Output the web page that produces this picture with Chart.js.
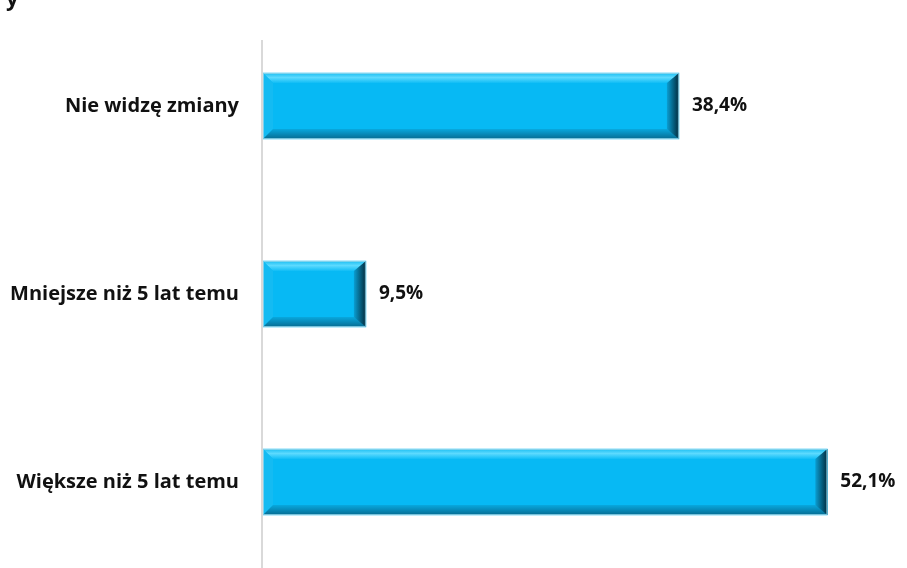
<!DOCTYPE html>
<html>
<head>
<meta charset="utf-8">
<script src="https://cdn.jsdelivr.net/npm/chart.js"></script>
<style>
  html, body { margin: 0; padding: 0; background: #fff; overflow: hidden; }
  #wrap { position: relative; width: 907px; height: 580px; }
  #cut { position: absolute; left: 6px; top: -18px; font: bold 22px "Open Sans", sans-serif; color: #111; }
  canvas { display: block; }
</style>
</head>
<body>
<div id="wrap">
  <span id="cut">y</span>
  <canvas id="chart" width="907" height="580"></canvas>
</div>
<script>
// Data
const categories = ['Nie widzę zmiany', 'Mniejsze niż 5 lat temu', 'Większe niż 5 lat temu'];
const shares = [38.4, 9.5, 52.1];
const valueLabels = ['38,4%', '9,5%', '52,1%'];

const FONT = '"Open Sans", sans-serif';

// Bevelled bar look plus the value labels to the right of each bar
const bevelPlugin = {
  id: 'bevel',
  afterDatasetsDraw(chart) {
    const ctx = chart.ctx;
    const meta = chart.getDatasetMeta(0);
    meta.data.forEach((bar, i) => {
      const left = bar.base, right = bar.x;
      const top = bar.y - bar.height / 2, bottom = bar.y + bar.height / 2;
      const b = 10;
      ctx.save();
      // top bevel
      const gt = ctx.createLinearGradient(0, top, 0, top + b);
      gt.addColorStop(0, '#1cbef2'); gt.addColorStop(0.45, '#5cdafe'); gt.addColorStop(1, '#10bdf6');
      ctx.fillStyle = gt;
      ctx.beginPath();
      ctx.moveTo(left, top); ctx.lineTo(right, top);
      ctx.lineTo(right - b, top + b); ctx.lineTo(left + b, top + b);
      ctx.closePath(); ctx.fill();
      // left bevel
      ctx.fillStyle = '#14bbf2';
      ctx.beginPath();
      ctx.moveTo(left, top); ctx.lineTo(left + b, top + b);
      ctx.lineTo(left + b, bottom - b); ctx.lineTo(left, bottom);
      ctx.closePath(); ctx.fill();
      // bottom bevel
      const gb = ctx.createLinearGradient(0, bottom - b, 0, bottom);
      gb.addColorStop(0, '#08a8de'); gb.addColorStop(1, '#066c92');
      ctx.fillStyle = gb;
      ctx.beginPath();
      ctx.moveTo(left, bottom); ctx.lineTo(right, bottom);
      ctx.lineTo(right - b, bottom - b); ctx.lineTo(left + b, bottom - b);
      ctx.closePath(); ctx.fill();
      // right bevel
      const gr = ctx.createLinearGradient(right - b - 2, 0, right, 0);
      gr.addColorStop(0, '#0a9ed2'); gr.addColorStop(1, '#022b3d');
      ctx.fillStyle = gr;
      ctx.beginPath();
      ctx.moveTo(right, top); ctx.lineTo(right, bottom);
      ctx.lineTo(right - b - 2, bottom - b); ctx.lineTo(right - b - 2, top + b);
      ctx.closePath(); ctx.fill();
      // thin outline
      ctx.strokeStyle = 'rgba(150,215,235,0.8)';
      ctx.lineWidth = 1;
      ctx.strokeRect(left + 0.5, top + 0.5, right - left - 1, bottom - top - 1);
      // value label
      ctx.fillStyle = '#111';
      ctx.font = 'bold 19px ' + FONT;
      ctx.textAlign = 'left';
      ctx.textBaseline = 'middle';
      ctx.fillText(valueLabels[i], right + 13, bar.y);
      ctx.restore();
    });
  }
};

// Grey category axis line that starts a bit below the top
const axisLinePlugin = {
  id: 'axisLine',
  beforeDatasetsDraw(chart) {
    const ctx = chart.ctx;
    const x = chart.chartArea.left;
    ctx.save();
    ctx.strokeStyle = '#d9d9d9';
    ctx.lineWidth = 2;
    ctx.beginPath();
    ctx.moveTo(x - 1, 40);
    ctx.lineTo(x - 1, chart.height);
    ctx.stroke();
    ctx.restore();
  }
};

new Chart(document.getElementById('chart'), {
  type: 'bar',
  data: {
    labels: categories,
    datasets: [{
      data: shares,
      backgroundColor: '#07b9f4',
      borderWidth: 0,
      barThickness: 66
    }]
  },
  options: {
    indexAxis: 'y',
    responsive: false,
    animation: false,
    layout: { padding: { top: 12, bottom: 4, right: 0, left: 0 } },
    plugins: { legend: { display: false }, tooltip: { enabled: false } },
    scales: {
      x: { display: false, min: 0, max: 59.46 },
      y: {
        grid: { display: false },
        border: { display: false },
        afterFit(scale) {
          scale.width = 263;
          scale.paddingTop = 0;
          scale.paddingBottom = 0;
        },
        ticks: {
          color: '#111',
          padding: 16,
          font: { family: FONT, size: 20, weight: 'bold' }
        }
      }
    }
  },
  plugins: [axisLinePlugin, bevelPlugin]
});
</script>
</body>
</html>
